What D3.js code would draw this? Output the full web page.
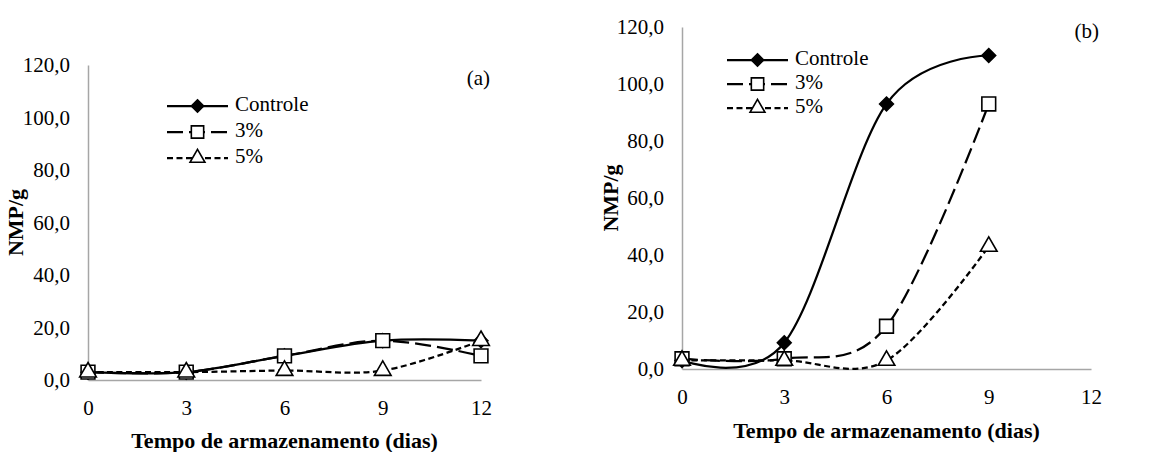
<!DOCTYPE html>
<html>
<head>
<meta charset="utf-8">
<script src="https://cdn.jsdelivr.net/npm/d3@7"></script>
<style>
  body { margin: 0; background: #fff; }
</style>
</head>
<body>
<svg id="chart" width="1162" height="452"></svg>
<script>
// dias de armazenamento
var days = [0, 3, 6, 9, 12];
var xTicks = [0, 3, 6, 9, 12];
var yTicks = [0, 20, 40, 60, 80, 100, 120];
var seriesNames = ["Controle", "3%", "5%"];

// painel (a)
var controleA = [3.0, 3.0, 9.2, 15.0, 15.0];
var tres_A = [3.0, 3.0, 9.2, 15.0, 9.2];
var cinco_A = [3.0, 3.0, 3.6, 3.6, 15.0];

// painel (b) - sem dia 12
var controleB = [3.0, 9.2, 93.0, 110.0];
var tres_B = [3.6, 3.6, 15.0, 93.0];
var cinco_B = [3.0, 3.0, 3.0, 43.0];

var FONT = "'Liberation Serif'";
var svg = d3.select("#chart");
var fmt = function (d) { return d3.format(".1f")(d).replace(".", ","); };

// poe a fonte serifada em qualquer texto
function serif(sel, size, bold) {
    sel.style("font-family", FONT).style("font-size", size + "px");
    if (bold) sel.style("font-weight", "bold");
    return sel;
}

// losango = quadrado girado 45 graus
var diamond = {
    draw: function (ctx, size) {
        var r = Math.sqrt(size) / Math.SQRT2;
        ctx.moveTo(0, -r); ctx.lineTo(r, 0); ctx.lineTo(0, r); ctx.lineTo(-r, 0); ctx.closePath();
    }
};

var styles = [
    { dash: null, marker: diamond, fill: "#000", size: 95 },
    { dash: "16,6", marker: d3.symbolSquare, fill: "#fff", size: 190 },
    { dash: "6,3.5", marker: d3.symbolTriangle, fill: "#fff", size: 120 }
];

function drawPanel(p) {
    var x = d3.scaleLinear().domain([0, 12]).range([p.left, p.right]),
        y = d3.scaleLinear().domain([0, 120]).range([p.bottom, p.top]);

    var g = svg.append("g");

    // eixos
    g.append("g")
        .attr("transform", "translate(" + p.left + ",0)")
        .call(d3.axisLeft(y).tickValues(yTicks).tickSize(0).tickPadding(18).tickFormat(fmt))
        .call(function (a) {
            a.attr("font-family", null).attr("font-size", null);
            a.select(".domain").attr("stroke", "#a6a6a6").attr("stroke-width", 1.5);
            serif(a.selectAll("text"), 21);
        });

    g.append("g")
        .attr("transform", "translate(0," + p.bottom + ")")
        .call(d3.axisBottom(x).tickValues(xTicks).tickSize(0).tickPadding(p.xPad).tickFormat(d3.format("d")))
        .call(function (a) {
            a.attr("font-family", null).attr("font-size", null);
            a.select(".domain").attr("stroke", "#a6a6a6").attr("stroke-width", 1.5);
            serif(a.selectAll("text"), 21);
        });

    serif(g.append("text"), 22, true)
        .attr("x", (p.left + p.right) / 2)
        .attr("y", p.xTitleY)
        .attr("text-anchor", "middle")
        .attr("dominant-baseline", "middle")
        .text("Tempo de armazenamento (dias)");

    serif(g.append("text"), 22, true)
        .attr("transform", "translate(" + p.yTitleX + "," + (p.top + p.bottom) / 2 + ") rotate(-90)")
        .attr("text-anchor", "middle")
        .attr("dominant-baseline", "middle")
        .text("NMP/g");

    serif(g.append("text"), 21)
        .attr("x", p.labelX)
        .attr("y", p.labelY)
        .attr("text-anchor", "end")
        .attr("dominant-baseline", "middle")
        .text(p.label);

    var line = d3.line()
        .curve(d3.curveCatmullRom.alpha(0))
        .x(function (d) { return x(d.day); })
        .y(function (d) { return y(d.v); });

    p.series.forEach(function (vals, i) {
        var pts = vals.map(function (v, j) { return { day: days[j], v: v }; });
        var s = styles[i];
        g.append("path")
            .attr("d", line(pts))
            .attr("fill", "none")
            .attr("stroke", "#000")
            .attr("stroke-width", 2.25)
            .attr("stroke-dasharray", s.dash);
        g.selectAll(".m" + i)
            .data(pts)
            .enter().append("path")
            .attr("class", "m" + i)
            .attr("transform", function (d) { return "translate(" + x(d.day) + "," + y(d.v) + ")"; })
            .attr("d", d3.symbol().type(s.marker).size(s.size))
            .attr("fill", s.fill)
            .attr("stroke", "#000")
            .attr("stroke-width", 1.6);
    });

    // legenda
    var lg = g.append("g");
    seriesNames.forEach(function (name, i) {
        var s = styles[i], ly = p.legY + i * p.legStep;
        lg.append("line")
            .attr("x1", p.legX).attr("x2", p.legX + 61)
            .attr("y1", ly).attr("y2", ly)
            .attr("stroke", "#000")
            .attr("stroke-width", 2.25)
            .attr("stroke-dasharray", s.dash);
        lg.append("path")
            .attr("transform", "translate(" + (p.legX + 30.5) + "," + ly + ")")
            .attr("d", d3.symbol().type(s.marker).size(s.size * 0.8))
            .attr("fill", s.fill)
            .attr("stroke", "#000")
            .attr("stroke-width", 1.6);
        serif(lg.append("text"), 21)
            .attr("x", p.legX + 68)
            .attr("y", ly)
            .attr("dominant-baseline", "middle")
            .text(name);
    });
}

drawPanel({
    left: 88, right: 481, top: 65, bottom: 380, xPad: 20,
    xTitleY: 443, yTitleX: 18, label: "(a)", labelX: 490, labelY: 80,
    legX: 167, legY: 106, legStep: 26,
    series: [controleA, tres_A, cinco_A]
});

drawPanel({
    left: 682, right: 1091, top: 27, bottom: 369, xPad: 20,
    xTitleY: 433, yTitleX: 613, label: "(b)", labelX: 1099, labelY: 33,
    legX: 727, legY: 60, legStep: 24,
    series: [controleB, tres_B, cinco_B]
});
</script>
</body>
</html>
